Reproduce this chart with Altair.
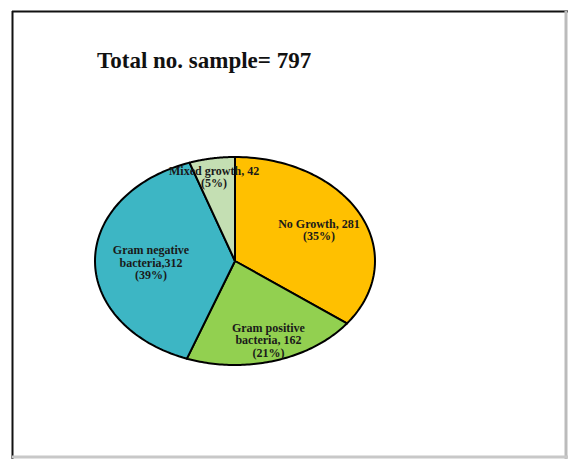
import altair as alt
import pandas as pd

# ---- data ----
categories = ["No Growth", "Gram positive bacteria", "Gram negative bacteria", "Mixed growth"]
counts = [281, 162, 312, 42]
label_texts = [
    "No Growth, 281\n(35%)",
    "Gram positive\nbacteria, 162\n(21%)",
    "Gram negative\nbacteria,312\n(39%)",
    "Mixed growth, 42\n(5%)",
]
title_text = "Total no. sample= 797"

colors = ["#FFC000", "#92D050", "#3DB6C4", "#C4DFB3"]

df = pd.DataFrame({"cat": categories, "n": counts, "label": label_texts,
                   "ord": list(range(len(categories)))})

W, H = 556, 448
# x/y scales place the (stretched) pie: unit ellipse -> pixels
xscale = alt.Scale(domain=[-1.5929, 2.3786], nice=False, zero=False)
yscale = alt.Scale(domain=[-1.9038, 2.4038], nice=False, zero=False)

base = alt.Chart(df).transform_window(
    cum="sum(n)", sort=[alt.SortField("ord")], frame=[None, 0]
).transform_joinaggregate(total="sum(n)").transform_calculate(
    a1="2*PI*(datum.cum - datum.n)/datum.total",
    a2="2*PI*datum.cum/datum.total",
)

NP = 80
slices = base.transform_calculate(
    pts=f"sequence(0, {NP + 2})"
).transform_flatten(["pts"]).transform_calculate(
    t=f"(datum.pts - 1)/{NP - 1}",
).transform_calculate(
    px=f"(datum.pts == 0 || datum.pts == {NP + 1}) ? 0 : sin(datum.a1 + datum.t*(datum.a2 - datum.a1))",
    py=f"(datum.pts == 0 || datum.pts == {NP + 1}) ? 0 : cos(datum.a1 + datum.t*(datum.a2 - datum.a1))",
).mark_line(stroke="black", strokeWidth=2, strokeJoin="round", fillOpacity=1).encode(
    x=alt.X("px:Q", scale=xscale, axis=None),
    y=alt.Y("py:Q", scale=yscale, axis=None),
    order=alt.Order("pts:Q"),
    detail="cat:N",
    fill=alt.Fill("cat:N", scale=alt.Scale(domain=categories, range=colors), legend=None),
)

# label placement (fraction of radius and small nudges) per slice
label_pos = {
    "No Growth": (0.67, 0, -6),
    "Gram positive bacteria": (0.79, 2, -12),
    "Gram negative bacteria": (0.60, 0, -10),
    "Mixed growth": (0.82, -2, -6),
}
label_layers = []
for cat, (r, dx, dy) in label_pos.items():
    lay = base.transform_filter(alt.datum.cat == cat).transform_calculate(
        lx=f"{r}*sin((datum.a1+datum.a2)/2)",
        ly=f"{r}*cos((datum.a1+datum.a2)/2)",
    ).mark_text(
        font="Liberation Serif", fontWeight="bold", fontSize=12, lineHeight=12.5,
        lineBreak="\n", align="center", baseline="middle", color="#1a1a1a", dx=dx, dy=dy,
    ).encode(
        x=alt.X("lx:Q", scale=xscale, axis=None),
        y=alt.Y("ly:Q", scale=yscale, axis=None),
        text="label:N",
    )
    label_layers.append(lay)

title = alt.Chart(pd.DataFrame({"t": [title_text]})).mark_text(
    font="Liberation Serif", fontWeight="bold", fontSize=23, align="left",
    baseline="alphabetic", color="#111",
).encode(x=alt.value(85), y=alt.value(57), text="t:N")

frame_df = pd.DataFrame({"k": [0]})
left = alt.Chart(frame_df).mark_rule(color="#111", strokeWidth=2).encode(
    x=alt.value(0.5), y=alt.value(0), y2=alt.value(H))
top = alt.Chart(frame_df).mark_rule(color="#111", strokeWidth=2).encode(
    y=alt.value(0.5), x=alt.value(0), x2=alt.value(W))
right = alt.Chart(frame_df).mark_rule(color="#bbbbbb", strokeWidth=3).encode(
    x=alt.value(W - 2), y=alt.value(0), y2=alt.value(H))
bottom = alt.Chart(frame_df).mark_rule(color="#c8c8c8", strokeWidth=3).encode(
    y=alt.value(H - 2), x=alt.value(0), x2=alt.value(W))

chart = alt.layer(slices, *label_layers, title, left, top, right, bottom).properties(
    width=W, height=H,
    padding={"left": 12, "top": 11, "right": 0, "bottom": 0},
    autosize=alt.AutoSizeParams(type="none"),
    background="white",
).configure_view(stroke=None)

chart.save("out.html", embed_options={"renderer": "svg", "actions": False})
